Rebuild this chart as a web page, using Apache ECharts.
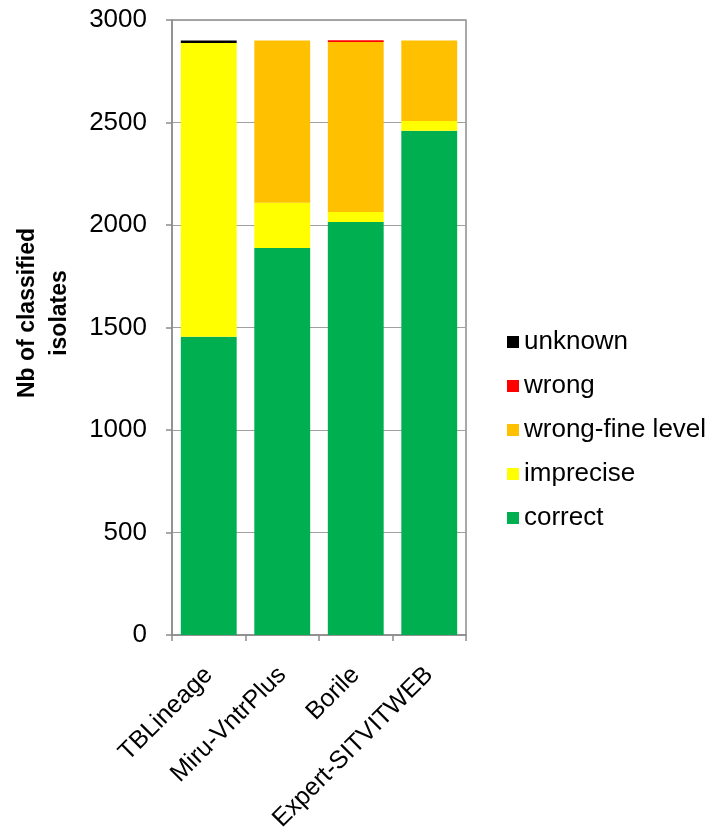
<!DOCTYPE html>
<html>
<head>
<meta charset="utf-8">
<script src="https://cdn.jsdelivr.net/npm/echarts@6/dist/echarts.min.js"></script>
<style>
  html, body { margin: 0; padding: 0; background: #fff; }
  #chart { width: 713px; height: 835px; }
</style>
</head>
<body>
<div id="chart"></div>
<script>
// Classification outcome per tool (number of isolates)
const tools = ['TBLineage', 'Miru-VntrPlus', 'Borile', 'Expert-SITVITWEB'];
const correct = [1455, 1888, 2015, 2460];
const imprecise = [1433, 220, 48, 47];
const wrongFine = [0, 792, 830, 393];
const wrong = [0, 0, 8, 0];
const unknown = [12, 0, 0, 0];
const yTicks = [0, 500, 1000, 1500, 2000, 2500, 3000];

const font = 'Liberation Sans, Arial, sans-serif';
const axisGray = '#8c8c8c';

function stackSeries(name, data, color) {
  return {
    name: name,
    type: 'bar',
    stack: 'total',
    data: data,
    barWidth: '76%',
    itemStyle: { color: color },
    emphasis: { disabled: true }
  };
}

const chart = echarts.init(document.getElementById('chart'), null, { renderer: 'canvas' });
chart.setOption({
  animation: false,
  backgroundColor: '#ffffff',
  textStyle: { fontFamily: font },
  grid: {
    left: 172, right: 247, top: 20, bottom: 200,
    show: true, borderColor: axisGray, borderWidth: 1.5
  },
  legend: {
    orient: 'vertical',
    left: 502, top: 324,
    itemWidth: 12, itemHeight: 12, itemGap: 18,
    icon: 'rect',
    data: ['unknown', 'wrong', 'wrong-fine level', 'imprecise', 'correct'],
    textStyle: { fontFamily: font, fontSize: 26, lineHeight: 26, color: '#000' }
  },
  xAxis: {
    type: 'category',
    data: tools,
    axisLine: { lineStyle: { color: axisGray, width: 1.5 } },
    axisTick: { show: true, length: 6, lineStyle: { color: axisGray, width: 1.5 } },
    axisLabel: {
      rotate: 45, interval: 0, margin: 36,
      fontFamily: font, fontSize: 25, color: '#000'
    }
  },
  yAxis: {
    type: 'value',
    min: yTicks[0], max: yTicks[yTicks.length - 1], interval: 500,
    axisLine: { show: true, lineStyle: { color: axisGray, width: 1.5 } },
    axisTick: { show: true, length: 6, lineStyle: { color: axisGray, width: 1.5 } },
    splitLine: { show: true, lineStyle: { color: '#a0a0a0', width: 1 } },
    axisLabel: {
      margin: 25, fontFamily: font, fontSize: 26, color: '#000',
      formatter: function (v) { return String(v); }
    }
  },
  graphic: [{
    type: 'text',
    x: 44, y: 313,
    rotation: Math.PI / 2,
    style: {
      text: 'Nb of classified\nisolates',
      font: 'bold 23px ' + font,
      fill: '#000',
      align: 'center',
      verticalAlign: 'middle',
      lineHeight: 32
    }
  }],
  series: [
    stackSeries('correct', correct, '#00B050'),
    stackSeries('imprecise', imprecise, '#FFFF00'),
    stackSeries('wrong-fine level', wrongFine, '#FFC000'),
    stackSeries('wrong', wrong, '#FF0000'),
    stackSeries('unknown', unknown, '#000000')
  ]
});
</script>
</body>
</html>
